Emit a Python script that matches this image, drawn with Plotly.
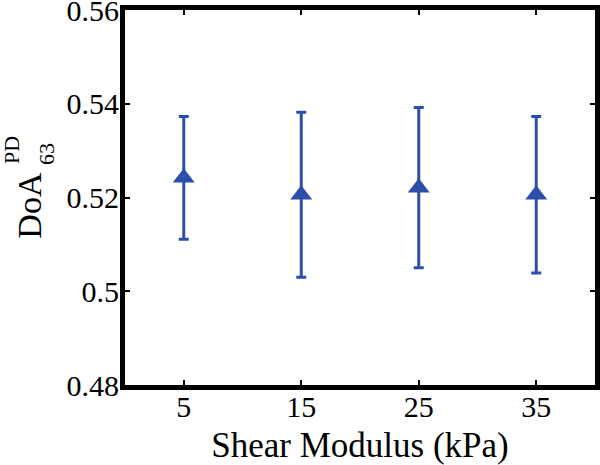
import plotly.graph_objects as go

# shear modulus (kPa) and DoA values
shear_kpa = [5, 15, 25, 35]
doa_mean = [0.5242, 0.5206, 0.5221, 0.5206]
doa_err = [0.0131, 0.0176, 0.0171, 0.0167]

x_ticks = [5, 15, 25, 35]
y_ticks = [0.48, 0.50, 0.52, 0.54, 0.56]
y_ticklabels = ["0.48", "0.5", "0.52", "0.54", "0.56"]

blue = "#2D4EAA"
font = "Liberation Serif"

fig = go.Figure()
fig.add_trace(go.Scatter(
    x=shear_kpa, y=doa_mean, mode="markers",
    marker=dict(symbol="triangle-up", size=19, color=blue),
    error_y=dict(type="data", array=doa_err, color=blue, thickness=3, width=5),
    showlegend=False,
))

axis_style = dict(
    showline=True, linewidth=5, linecolor="black", mirror="ticks",
    ticks="inside", ticklen=5, tickwidth=2, tickcolor="black",
    showgrid=False, zeroline=False, automargin=False,
    ticklabeloverflow="allow",
    tickfont=dict(family=font, size=30, color="black"),
)
fig.update_xaxes(range=[0, 40], tickvals=x_ticks, ticklabelstandoff=-9,
                 title=dict(text="Shear Modulus (kPa)",
                            font=dict(family=font, size=35, color="black")),
                 **axis_style)
fig.update_yaxes(range=[0.48, 0.56], tickvals=y_ticks, ticktext=y_ticklabels,
                 ticklabelstandoff=-5, **axis_style)

# y title: DoA with stacked superscript PD and subscript 63
ylab = dict(textangle=-90, xref="paper", yref="paper", xanchor="center",
            yanchor="middle", showarrow=False)
fig.add_annotation(text="DoA", x=-0.205, y=0.48,
                   font=dict(family=font, size=34, color="black"), **ylab)
fig.add_annotation(text="63", x=-0.167, y=0.615,
                   font=dict(family=font, size=22, color="black"), **ylab)
fig.add_annotation(text="PD", x=-0.24, y=0.627,
                   font=dict(family=font, size=22, color="black"), **ylab)

fig.update_layout(
    width=600, height=465,
    margin=dict(l=125, r=5, t=10, b=80),
    plot_bgcolor="white", paper_bgcolor="white",
)
# drop the default 8px body margin so the figure fills the window
fig.write_html("out.html", config={"displayModeBar": False},
               post_script="document.body.style.margin='0px';")
